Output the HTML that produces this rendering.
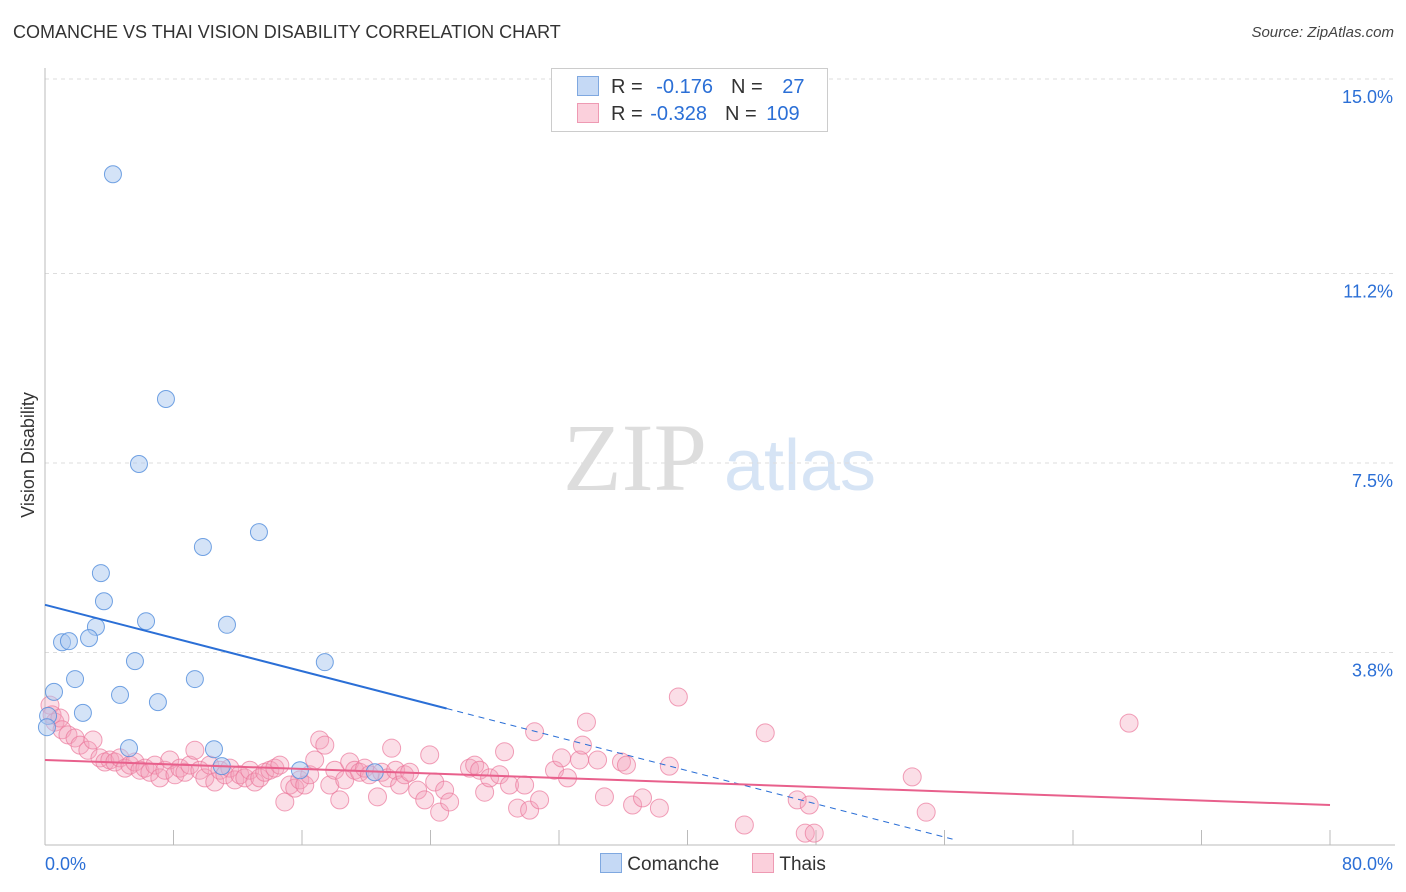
<!DOCTYPE html>
<html><head><meta charset="utf-8"><style>
body{margin:0;background:#fff;font-family:"Liberation Sans",sans-serif;}
#wrap{position:relative;width:1406px;height:892px;overflow:hidden;}
.t{position:absolute;white-space:nowrap;}
</style></head><body>
<div id="wrap">
<div class="t" style="left:13px;top:22px;font-size:18px;color:#333;">COMANCHE VS THAI VISION DISABILITY CORRELATION CHART</div>
<div class="t" style="right:12px;top:24px;font-size:15px;color:#444;font-style:italic;">Source: ZipAtlas.com</div>
<svg id="svg" width="1406" height="892" style="position:absolute;left:0;top:0">
<text x="635" y="490" font-family="Liberation Serif,serif" font-size="96" fill="#ddd" text-anchor="middle">ZIP</text>
<text x="800" y="490" font-family="Liberation Sans,sans-serif" font-size="72" fill="#d6e4f5" text-anchor="middle">atlas</text>
<text transform="translate(34,455) rotate(-90)" font-size="18" fill="#333" text-anchor="middle">Vision Disability</text>
<g id="grid"></g><g id="pts"></g><g id="lines"></g>
</svg>
<div style="position:absolute;left:551px;top:68px;width:275px;height:62px;border:1px solid #ccc;background:#fff;font-size:20px;">
 <div style="position:absolute;left:25px;top:7px;"><span style="display:inline-block;width:20px;height:18px;background:#c5d9f5;border:1px solid #7fa8e0;vertical-align:-3px"></span><span style="color:#333;margin-left:12px">R = </span><span style="color:#2b6fd6;margin-left:8px">-0.176</span><span style="color:#333;margin-left:18px">N = </span><span style="color:#2b6fd6;margin-left:14px">27</span></div>
 <div style="position:absolute;left:25px;top:34px;"><span style="display:inline-block;width:20px;height:18px;background:#fbd0dc;border:1px solid #ee9ab3;vertical-align:-3px"></span><span style="color:#333;margin-left:12px">R = </span><span style="color:#2b6fd6;margin-left:2px">-0.328</span><span style="color:#333;margin-left:18px">N = </span><span style="color:#2b6fd6;margin-left:4px">109</span></div>
</div>
<div style="position:absolute;left:600px;top:853px;font-size:19px;color:#333;">
 <span><span style="display:inline-block;width:20px;height:18px;background:#c5d9f5;border:1px solid #7fa8e0;vertical-align:-3px"></span> Comanche</span>
 <span style="margin-left:28px"><span style="display:inline-block;width:20px;height:18px;background:#fbd0dc;border:1px solid #ee9ab3;vertical-align:-3px"></span> Thais</span>
</div>
</div>
<script>
const yTicks=[15.0,11.2,7.5,3.8];
const yTickLabels=["15.0%","11.2%","7.5%","3.8%"];
const xEndLabels=["0.0%","80.0%"];
const comancheX=[4.23,7.53,5.85,9.83,13.32,3.48,3.67,6.29,11.33,3.17,1.06,1.49,2.74,5.60,17.42,1.87,9.33,0.56,4.67,7.03,2.36,0.19,0.12,5.23,10.52,11.01,15.87,20.53];
const comancheY=[13.14,8.75,7.48,5.86,6.15,5.35,4.80,4.41,4.34,4.30,4.00,4.02,4.08,3.63,3.61,3.28,3.28,3.03,2.97,2.83,2.62,2.56,2.34,1.93,1.91,1.58,1.50,1.46];
const thaiX=[0.31,0.44,0.62,0.93,1.06,1.43,1.87,2.18,2.67,2.99,3.42,3.73,4.04,4.35,4.67,4.98,5.29,5.60,5.91,6.22,6.53,6.84,7.15,7.46,7.77,8.09,8.40,8.71,9.02,9.33,9.64,9.95,10.26,10.57,10.89,11.20,11.51,11.82,12.13,12.44,12.75,13.06,13.37,13.68,14.0,14.31,14.62,14.93,15.24,15.55,15.86,16.17,16.48,16.79,17.1,17.42,17.73,18.04,18.35,18.66,18.97,19.28,19.59,19.9,20.2,20.7,20.96,21.33,21.58,21.83,22.08,22.39,22.7,23.2,23.64,23.95,24.26,24.57,24.88,25.19,26.43,26.75,27.06,27.37,27.68,28.3,28.61,28.92,29.42,29.86,30.17,30.48,30.79,31.72,32.16,32.53,33.28,33.46,33.71,34.4,34.83,35.89,36.2,36.58,37.2,38.25,38.87,39.43,43.54,44.84,46.83,47.33,47.58,47.89,53.99,54.86,67.49];
const thaiY=[2.77,2.58,2.44,2.52,2.29,2.19,2.13,1.99,1.89,2.09,1.74,1.66,1.70,1.66,1.74,1.54,1.60,1.66,1.50,1.54,1.46,1.60,1.35,1.50,1.70,1.41,1.54,1.46,1.60,1.89,1.50,1.35,1.60,1.27,1.50,1.41,1.54,1.31,1.41,1.35,1.50,1.27,1.35,1.46,1.50,1.54,1.60,0.88,1.21,1.15,1.31,1.21,1.41,1.70,2.09,1.99,1.21,1.50,0.92,1.31,1.66,1.50,1.46,1.54,1.41,0.98,1.46,1.35,1.93,1.50,1.21,1.41,1.46,1.11,0.92,1.80,1.27,0.68,1.11,0.88,1.54,1.60,1.50,1.07,1.35,1.41,1.86,1.21,0.76,1.21,0.72,2.25,0.92,1.50,1.74,1.35,1.70,1.99,2.44,1.70,0.98,1.66,1.60,0.82,0.96,0.76,1.58,2.93,0.43,2.23,0.92,0.27,0.82,0.27,1.37,0.68,2.42];
const comancheTrend=[4.73,-0.081];
const thaiTrend=[1.70,-0.011];
const NS="http://www.w3.org/2000/svg";
const X0=45,X1=1330,YB=847,YPX=51.2;
const sx=v=>X0+(X1-X0)*v/80;
const sy=v=>YB-v*YPX;
function mk(tag,attrs,parent){const e=document.createElementNS(NS,tag);for(const k in attrs)e.setAttribute(k,attrs[k]);parent.appendChild(e);return e;}
const grid=document.getElementById('grid');
yTicks.forEach((t,i)=>{
 const l=mk('line',{x1:45,x2:1395,y1:sy(t),y2:sy(t),stroke:'#ddd','stroke-dasharray':'4,4'},grid);
 
 
 const tx=mk('text',{x:1393,y:sy(t)+24,'text-anchor':'end','font-size':18,fill:'#2b6fd6'},grid);
 tx.textContent=yTickLabels[i];
 
 
});
const ax=mk('line',{x1:45,x2:45,y1:68,y2:845,stroke:'#bbb'},grid);


const bx=mk('line',{x1:45,x2:1395,y1:845,y2:845,stroke:'#bbb'},grid);


for(let k=1;k<=10;k++){const v=k*8;const t=mk('line',{x1:sx(v),x2:sx(v),y1:830,y2:845,stroke:'#bbb'},grid);
 
 }
[[0,'start',45],[80,'end',1393]].forEach((d,i)=>{const t=mk('text',{x:d[2],y:870,'text-anchor':d[1],'font-size':18,fill:'#2b6fd6'},grid);t.textContent=xEndLabels[i];
 
 });
const pts=document.getElementById('pts');
thaiX.forEach((x,i)=>{const c=mk('circle',{cx:sx(x),cy:sy(thaiY[i]),r:9,fill:'rgba(244,160,185,0.35)',stroke:'rgba(235,120,155,0.7)','stroke-width':1},pts);
 
 });
comancheX.forEach((x,i)=>{const c=mk('circle',{cx:sx(x),cy:sy(comancheY[i]),r:8.5,fill:'rgba(170,200,240,0.5)',stroke:'rgba(80,140,220,0.8)','stroke-width':1},pts);
 
 });
const lines=document.getElementById('lines');
const f=(tr,x)=>tr[0]+tr[1]*x;
const l1=mk('line',{x1:sx(0),y1:sy(f(comancheTrend,0)),x2:sx(25),y2:sy(f(comancheTrend,25)),stroke:'#2b6fd6','stroke-width':2},lines);


const l2=mk('line',{x1:sx(25),y1:sy(f(comancheTrend,25)),x2:sx(56.5),y2:sy(f(comancheTrend,56.5)),stroke:'#2b6fd6','stroke-width':1,'stroke-dasharray':'6,5'},lines);


const l3=mk('line',{x1:sx(0),y1:sy(f(thaiTrend,0)),x2:sx(80),y2:sy(f(thaiTrend,80)),stroke:'#e8608c','stroke-width':2},lines);


</script>
</body></html>
